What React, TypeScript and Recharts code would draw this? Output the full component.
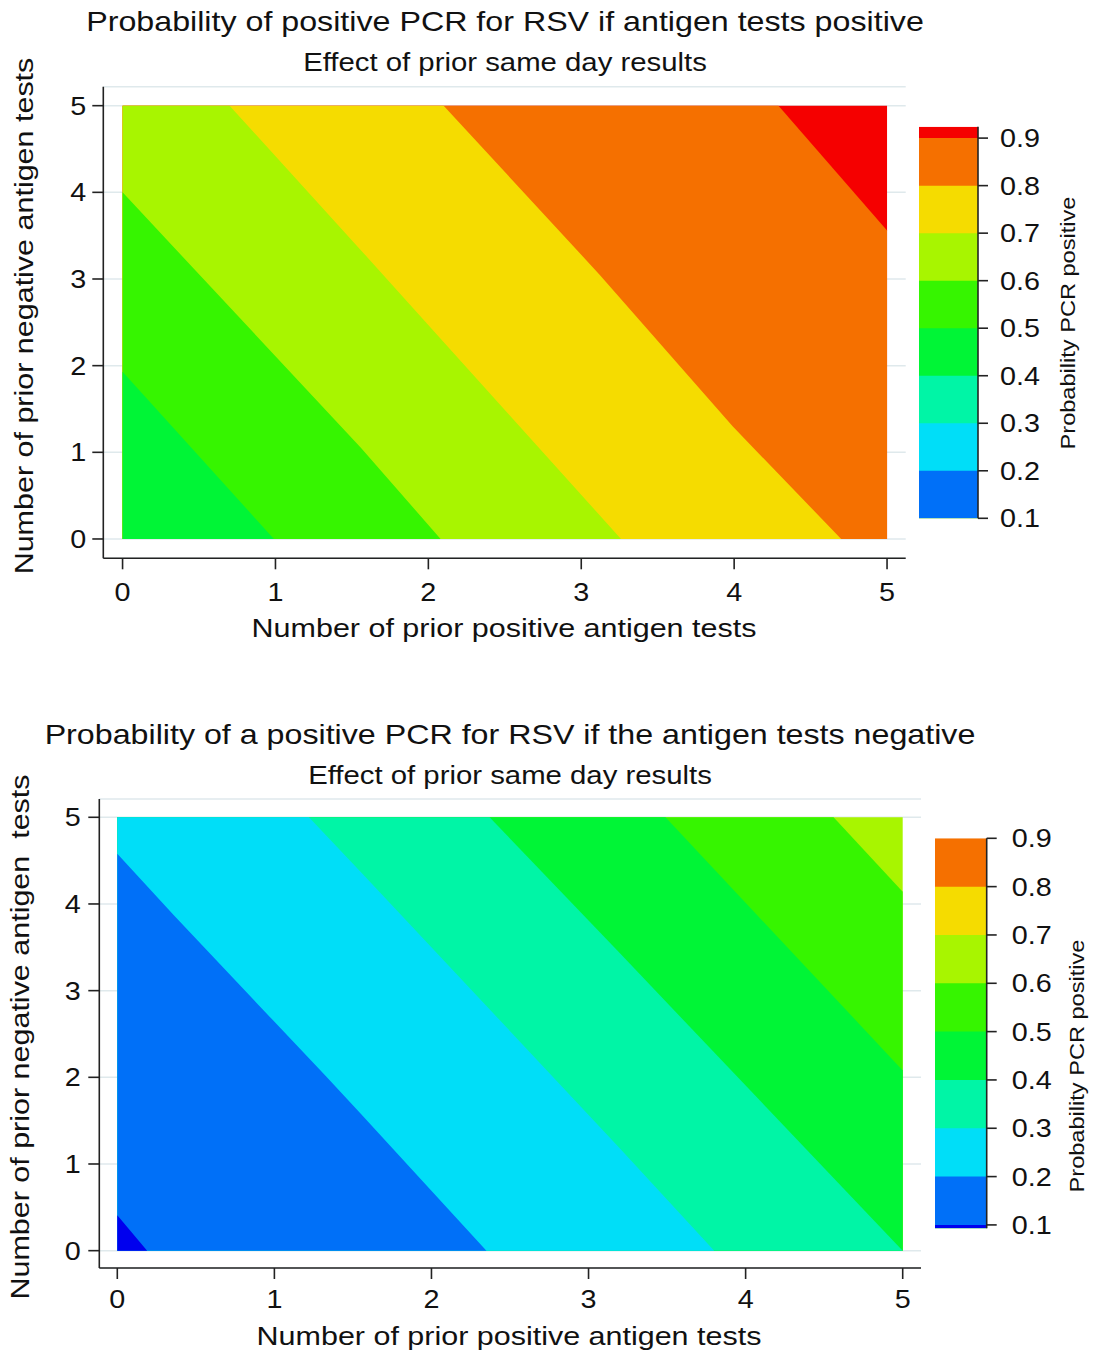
import { ComposedChart, Area, XAxis, YAxis, CartesianGrid } from 'recharts';

const FONT = '"Liberation Sans", Arial, Helvetica, sans-serif';
const STRETCH = 1.15;

const axisTicks = [0, 1, 2, 3, 4, 5];
const probTicks = [0.1, 0.2, 0.3, 0.4, 0.5, 0.6, 0.7, 0.8, 0.9];

// colour of each 0.1 band, index = lower bound * 10
const bandColors = ['#0000ee', '#0070f8', '#00def8', '#00f5a6', '#00f536', '#36f500', '#a8f500', '#f5dc00', '#f57000', '#f50000'];

// upper panel: contour lines (x = prior positive, y = prior negative)
const posLine90 = [{ x: 4.29, y: 5 }, { x: 5, y: 3.56 }];
const posLine80 = [{ x: 2.1, y: 5 }, { x: 3.12, y: 3.05 }, { x: 3.99, y: 1.3 }, { x: 4.7, y: 0 }];
const posLine70 = [{ x: 0.7, y: 5 }, { x: 1.56, y: 3.33 }, { x: 3.26, y: 0 }];
const posLine60 = [{ x: 0, y: 4.0 }, { x: 1.56, y: 1.05 }, { x: 2.08, y: 0 }];
const posLine50 = [{ x: 0, y: 1.93 }, { x: 0.99, y: 0 }];

// lower panel
const negLine60 = [{ x: 4.56, y: 5 }, { x: 5, y: 4.14 }];
const negLine50 = [{ x: 3.49, y: 5 }, { x: 5, y: 2.08 }];
const negLine40 = [{ x: 2.37, y: 5 }, { x: 3.2, y: 3.43 }, { x: 5, y: 0 }];
const negLine30 = [{ x: 1.22, y: 5 }, { x: 1.55, y: 4.37 }, { x: 3.2, y: 1.18 }, { x: 3.8, y: 0 }];
const negLine20 = [{ x: 0, y: 4.58 }, { x: 0.36, y: 3.87 }, { x: 0.99, y: 2.66 }, { x: 1.33, y: 2.01 }, { x: 1.55, y: 1.58 }, { x: 2.35, y: 0 }];
const negLine10 = [{ x: 0, y: 0.41 }, { x: 0.19, y: 0 }];

// band above the highest line, then each line with the band below it (painted in order)
const posTopBand = 9;
const posLayers = [
  { band: 8, line: posLine90 },
  { band: 7, line: posLine80 },
  { band: 6, line: posLine70 },
  { band: 5, line: posLine60 },
  { band: 4, line: posLine50 },
];
const negTopBand = 6;
const negLayers = [
  { band: 5, line: negLine60 },
  { band: 4, line: negLine50 },
  { band: 3, line: negLine40 },
  { band: 2, line: negLine30 },
  { band: 1, line: negLine20 },
  { band: 0, line: negLine10 },
];

// colour bars: upper edge of each band and its colour index, top to bottom
const posBarTops = [0.924, 0.9, 0.8, 0.7, 0.6, 0.5, 0.4, 0.3, 0.2];
const posBarBands = [9, 8, 7, 6, 5, 4, 3, 2, 1];
const posBarMin = 0.1;
const negBarTops = [0.9, 0.8, 0.7, 0.6, 0.5, 0.4, 0.3, 0.2, 0.1];
const negBarBands = [8, 7, 6, 5, 4, 3, 2, 1, 0];
const negBarMin = 0.093;

const XMAX = 5;
const YMAX = 5;

function fillBelow(line: { x: number; y: number }[]) {
  const pts = [...line];
  if (pts[0].x > 0) pts.unshift({ x: 0, y: YMAX });
  if (pts[pts.length - 1].x < XMAX) pts.push({ x: XMAX, y: 0 });
  return pts;
}

function makeTick(anchor: 'start' | 'middle' | 'end', dy: string, fmt?: (v: number) => string) {
  return (props: any) => {
    const { x, y, payload } = props;
    return (
      <g transform={`translate(${x},${y})`}>
        <text transform={`scale(${STRETCH},1)`} textAnchor={anchor} dy={dy} fill="#111" fontSize={25} fontFamily={FONT}>
          {fmt ? fmt(payload.value) : payload.value}
        </text>
      </g>
    );
  };
}

function Label({ x, y, size, rotate, children }: { x: number; y: number; size: number; rotate?: boolean; children: any }) {
  return (
    <div
      style={{
        position: 'absolute',
        left: x,
        top: y,
        fontFamily: FONT,
        fontSize: size,
        lineHeight: 1,
        whiteSpace: 'pre',
        color: '#111',
        transform: `translate(-50%,-50%) ${rotate ? 'rotate(-90deg) ' : ''}scaleX(${STRETCH})`,
      }}
    >
      {children}
    </div>
  );
}

const axisStroke = { stroke: '#222', strokeWidth: 1.6 };

function ContourPanel(props: {
  top: number;
  height: number;
  margin: { top: number; right: number; bottom: number; left: number };
  yWidth: number;
  xDomain: [number, number];
  yDomain: [number, number];
  topBand: number;
  layers: { band: number; line: { x: number; y: number }[] }[];
  yTickMargin: number;
  xTickMargin: number;
}) {
  const { top, height, margin, yWidth, xDomain, yDomain, topBand, layers, yTickMargin, xTickMargin } = props;
  return (
    <div style={{ position: 'absolute', left: 0, top }}>
      <ComposedChart width={1093} height={height} margin={margin}>
        <CartesianGrid vertical={false} stroke="#dfe9ec" strokeWidth={1.5} />
        <XAxis
          type="number"
          dataKey="x"
          domain={xDomain}
          ticks={axisTicks}
          allowDataOverflow
          height={70}
          axisLine={axisStroke}
          tickLine={axisStroke}
          tickSize={11}
          tickMargin={xTickMargin}
          tick={makeTick('middle', '0.716em')}
        />
        <YAxis
          type="number"
          dataKey="y"
          domain={yDomain}
          ticks={axisTicks}
          allowDataOverflow
          width={yWidth}
          axisLine={axisStroke}
          tickLine={axisStroke}
          tickSize={11}
          tickMargin={yTickMargin}
          tick={makeTick('end', '0.358em')}
        />
        <Area
          data={[{ x: 0, y: YMAX }, { x: XMAX, y: YMAX }]}
          dataKey="y"
          type="linear"
          baseValue={0}
          fill={bandColors[topBand]}
          fillOpacity={1}
          stroke="none"
          dot={false}
          activeDot={false}
          isAnimationActive={false}
        />
        {layers.map((l, i) => (
          <Area
            key={i}
            data={fillBelow(l.line)}
            dataKey="y"
            type="linear"
            baseValue={0}
            fill={bandColors[l.band]}
            fillOpacity={1}
            stroke="none"
            dot={false}
            activeDot={false}
            isAnimationActive={false}
          />
        ))}
      </ComposedChart>
    </div>
  );
}

function ColorBar(props: {
  left: number;
  top: number;
  width: number;
  height: number;
  margin: { top: number; right: number; bottom: number; left: number };
  yWidth: number;
  tops: number[];
  bands: number[];
  min: number;
  tickMargin: number;
}) {
  const { left, top, width, height, margin, yWidth, tops, bands, min, tickMargin } = props;
  return (
    <div style={{ position: 'absolute', left, top }}>
      <ComposedChart width={width} height={height} margin={margin}>
        <XAxis type="number" dataKey="x" domain={[0, 1]} hide />
        <YAxis
          type="number"
          dataKey="y"
          orientation="right"
          domain={[min, tops[0]]}
          ticks={probTicks}
          allowDataOverflow
          width={yWidth}
          axisLine={axisStroke}
          tickLine={axisStroke}
          tickSize={10}
          tickMargin={tickMargin}
          tick={makeTick('start', '0.358em', (v) => v.toFixed(1))}
        />
        {tops.map((hi, i) => (
          <Area
            key={i}
            data={[{ x: 0, y: hi }, { x: 1, y: hi }]}
            dataKey="y"
            type="linear"
            baseValue="dataMin"
            fill={bandColors[bands[i]]}
            fillOpacity={1}
            stroke="none"
            dot={false}
            activeDot={false}
            isAnimationActive={false}
          />
        ))}
      </ComposedChart>
    </div>
  );
}

export default function App() {
  return (
    <div style={{ position: 'absolute', left: 0, top: 0, width: 1093, height: 1353, background: '#fff', overflow: 'hidden' }}>
      <ContourPanel
        top={0}
        height={650}
        margin={{ top: 86.7, right: 187.3, bottom: 21.7, left: 0 }}
        yWidth={103.3}
        xDomain={[-0.126, 5.122]}
        yDomain={[-0.223, 5.219]}
        topBand={posTopBand}
        layers={posLayers}
        yTickMargin={6}
        xTickMargin={14}
      />
      <ColorBar
        left={919.3}
        top={100}
        width={174}
        height={450}
        margin={{ top: 26.7, right: 0, bottom: 31.7, left: 0 }}
        yWidth={115}
        tops={posBarTops}
        bands={posBarBands}
        min={posBarMin}
        tickMargin={12}
      />
      <ContourPanel
        top={700}
        height={653}
        margin={{ top: 99, right: 172, bottom: 15, left: 0 }}
        yWidth={99.3}
        xDomain={[-0.1146, 5.1165]}
        yDomain={[-0.2, 5.211]}
        topBand={negTopBand}
        layers={negLayers}
        yTickMargin={7.6}
        xTickMargin={11}
      />
      <ColorBar
        left={935}
        top={800}
        width={158}
        height={453}
        margin={{ top: 38.3, right: 0, bottom: 24.7, left: 0 }}
        yWidth={106.3}
        tops={negBarTops}
        bands={negBarBands}
        min={negBarMin}
        tickMargin={15}
      />

      <Label x={505} y={22} size={28}>Probability of positive PCR for RSV if antigen tests positive</Label>
      <Label x={505} y={63} size={25.5}>Effect of prior same day results</Label>
      <Label x={503.5} y={628} size={26.5}>Number of prior positive antigen tests</Label>
      <Label x={24} y={316} size={26.5} rotate>Number of prior negative antigen tests</Label>
      <Label x={1068} y={323} size={20.5} rotate>Probability PCR positive</Label>

      <Label x={509.5} y={735} size={28}>Probability of a positive PCR for RSV if the antigen tests negative</Label>
      <Label x={509.5} y={776} size={25.5}>Effect of prior same day results</Label>
      <Label x={508.5} y={1336} size={26.5}>Number of prior positive antigen tests</Label>
      <Label x={20} y={1037} size={26.5} rotate>{'Number of prior negative antigen  tests'}</Label>
      <Label x={1076.7} y={1066} size={20.5} rotate>Probability PCR positive</Label>
    </div>
  );
}
